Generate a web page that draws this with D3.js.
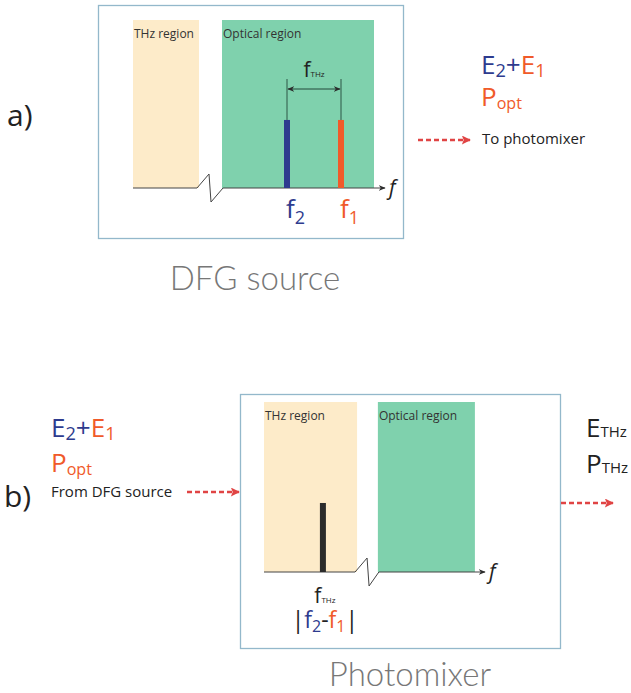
<!DOCTYPE html>
<html>
<head>
<meta charset="utf-8">
<script src="https://cdn.jsdelivr.net/npm/d3@7"></script>
<style>
  body { margin: 0; background: #fff; }
  svg { display: block; font-family: "Open Sans", "Noto Sans", sans-serif; }
</style>
</head>
<body>
<svg id="fig" width="631" height="693"></svg>
<script>
// spectral regions (frequency axis in arbitrary units 0..100)
var regionsA = [
    {name: "THz region", from: 0, to: 26.4, fill: "#fdebc9"},
    {name: "Optical region", from: 35.6, to: 96.4, fill: "#7fd1ad"}
];
var regionsB = [
    {name: "THz region", from: 0, to: 42.5, fill: "#fdebc9"},
    {name: "Optical region", from: 52, to: 96.3, fill: "#7fd1ad"}
];
// spectral lines: position and amplitude
var linesA = [
    {label: "2", pos: 61.6, amp: 0.405, color: "#2e3b8e"},
    {label: "1", pos: 83.2, amp: 0.405, color: "#f05a2a"}
];
var linesB = [
    {label: "THz", pos: 26.9, amp: 0.406, color: "#2b2b2b"}
];

var BLUE = "#2e3b8e", ORANGE = "#f05a2a", RED = "#e04444";
var svg = d3.select("#fig");

var defs = svg.append("defs");
defs.append("marker").attr("id", "ahBlack")
    .attr("viewBox", "0 0 10 10").attr("refX", 9).attr("refY", 5)
    .attr("markerWidth", 7).attr("markerHeight", 7).attr("orient", "auto-start-reverse")
    .attr("markerUnits", "userSpaceOnUse")
    .append("path").attr("d", "M0,1 L10,5 L0,9 L3,5 Z").attr("fill", "#2b2b2b");
defs.append("marker").attr("id", "ahRed")
    .attr("viewBox", "0 0 10 10").attr("refX", 9).attr("refY", 5)
    .attr("markerWidth", 10).attr("markerHeight", 9).attr("orient", "auto")
    .attr("markerUnits", "userSpaceOnUse")
    .append("path").attr("d", "M0,0 L10,5 L0,10 L2,5 Z").attr("fill", RED);

function panel(o) {
    var g = svg.append("g");
    var x = d3.scaleLinear().domain([0, 100]).range([o.x0, o.x1]);
    var y = d3.scaleLinear().domain([0, 1]).range([o.y0, o.y1]);

    g.append("rect")
        .attr("x", o.box[0] + 0.5).attr("y", o.box[1] + 0.5)
        .attr("width", o.box[2]).attr("height", o.box[3])
        .attr("fill", "none").attr("stroke", "#93b8cb").attr("stroke-width", 1.3);

    g.selectAll("rect.region").data(o.regions).join("rect")
        .attr("class", "region")
        .attr("x", function (d) { return x(d.from); })
        .attr("y", y(1))
        .attr("width", function (d) { return x(d.to) - x(d.from); })
        .attr("height", y(0) - y(1))
        .attr("fill", function (d) { return d.fill; });

    g.selectAll("text.region").data(o.regions).join("text")
        .attr("class", "region")
        .attr("x", function (d) { return x(d.from) + 1; })
        .attr("y", y(1) + 18)
        .attr("font-size", 12).attr("fill", "#333")
        .text(function (d) { return d.name; });

    // axis with break
    var r0 = o.regions[0], r1 = o.regions[1];
    var xb0 = x(r0.to) - 2, xb1 = x(r1.from) + 1;
    g.append("path")
        .attr("d", "M" + x(0) + "," + y(0) + " L" + xb0 + "," + y(0) +
            " L" + (xb0 + 12) + "," + (y(0) - 14) +
            " L" + (xb0 + 14) + "," + (y(0) + 14) +
            " L" + xb1 + "," + y(0))
        .attr("fill", "none").attr("stroke", "#444").attr("stroke-width", 1);
    g.append("line")
        .attr("x1", xb1).attr("x2", x(100) + 2)
        .attr("y1", y(0)).attr("y2", y(0))
        .attr("stroke", "#444").attr("stroke-width", 1.2)
        .attr("marker-end", "url(#ahBlack)");
    g.append("text")
        .attr("x", x(100) + 6).attr("y", y(0) + 7)
        .attr("font-size", 21).attr("font-style", "italic").attr("fill", "#222")
        .text("f");

    g.selectAll("rect.line").data(o.lines).join("rect")
        .attr("class", "line")
        .attr("x", function (d) { return x(d.pos) - 3; })
        .attr("y", function (d) { return y(d.amp); })
        .attr("width", 6)
        .attr("height", function (d) { return y(0) - y(d.amp); })
        .attr("fill", function (d) { return d.color; });

    return {g: g, x: x, y: y};
}

// ---------- panel a ----------
var pa = panel({
    box: [98, 5, 305, 233], x0: 133, x1: 383, y0: 188, y1: 20,
    regions: regionsA, lines: linesA
});

linesA.forEach(function (d) {
    pa.g.append("line")
        .attr("x1", pa.x(d.pos)).attr("x2", pa.x(d.pos))
        .attr("y1", pa.y(d.amp)).attr("y2", 79)
        .attr("stroke", "#24483a").attr("stroke-width", 0.9);
    var t = pa.g.append("text")
        .attr("x", pa.x(d.pos) - 1).attr("y", 218)
        .attr("font-size", 26).attr("fill", d.color);
    t.append("tspan").text("f");
    t.append("tspan").attr("font-size", 18).attr("dy", 6).text(d.label);
});
pa.g.append("line")
    .attr("x1", pa.x(linesA[0].pos) + 1).attr("x2", pa.x(linesA[1].pos) - 1)
    .attr("y1", 89).attr("y2", 89)
    .attr("stroke", "#24483a").attr("stroke-width", 1)
    .attr("marker-start", "url(#ahBlack)").attr("marker-end", "url(#ahBlack)");
(function () {
    var t = pa.g.append("text")
        .attr("x", (pa.x(linesA[0].pos) + pa.x(linesA[1].pos)) / 2)
        .attr("y", 77).attr("text-anchor", "middle").attr("fill", "#222");
    t.append("tspan").attr("font-size", 21).text("f");
    t.append("tspan").attr("font-size", 8).text("THz");
}());

function fieldLabel(x, y1, y2, size) {
    var t = svg.append("text").attr("x", x).attr("y", y1).attr("font-size", size);
    t.append("tspan").attr("fill", BLUE).text("E");
    t.append("tspan").attr("fill", BLUE).attr("font-size", size * 0.7).attr("dy", 3).text("2");
    t.append("tspan").attr("fill", BLUE).attr("dy", -3).text("+");
    t.append("tspan").attr("fill", ORANGE).text("E");
    t.append("tspan").attr("fill", ORANGE).attr("font-size", size * 0.7).attr("dy", 3).text("1");
    var p = svg.append("text").attr("x", x).attr("y", y2).attr("font-size", size).attr("fill", ORANGE);
    p.append("tspan").text("P");
    p.append("tspan").attr("font-size", size * 0.62).attr("dy", 3).text("opt");
}

function dashArrow(x1, x2, yy) {
    svg.append("line")
        .attr("x1", x1).attr("x2", x2).attr("y1", yy).attr("y2", yy)
        .attr("stroke", RED).attr("stroke-width", 2.4)
        .attr("stroke-dasharray", "5,3")
        .attr("marker-end", "url(#ahRed)");
}

fieldLabel(481, 74, 106, 26);
dashArrow(418, 470, 140);
svg.append("text").attr("x", 482).attr("y", 144).attr("font-size", 15).attr("fill", "#222")
    .text("To photomixer");
svg.append("text").attr("x", 7).attr("y", 126).attr("font-size", 30).attr("fill", "#222").text("a)");
svg.append("text").attr("x", 255).attr("y", 290).attr("text-anchor", "middle")
    .attr("font-family", "Lato, sans-serif").attr("font-weight", 300)
    .attr("font-size", 33).attr("fill", "#777").text("DFG source");

// ---------- panel b ----------
var pb = panel({
    box: [240, 394, 320, 254], x0: 264, x1: 483, y0: 572, y1: 402,
    regions: regionsB, lines: linesB
});

linesB.forEach(function (d) {
    var t = pb.g.append("text")
        .attr("x", pb.x(d.pos) + 2).attr("y", 603)
        .attr("text-anchor", "middle").attr("fill", "#222");
    t.append("tspan").attr("font-size", 21).text("f");
    t.append("tspan").attr("font-size", 8).text(d.label);
    var u = pb.g.append("text")
        .attr("x", pb.x(d.pos) + 2).attr("y", 628)
        .attr("text-anchor", "middle").attr("font-size", 23);
    u.append("tspan").attr("fill", "#222").text("|");
    u.append("tspan").attr("fill", BLUE).text("f");
    u.append("tspan").attr("fill", BLUE).attr("font-size", 16).attr("dy", 4).text("2");
    u.append("tspan").attr("fill", "#222").attr("dy", -4).text("-");
    u.append("tspan").attr("fill", ORANGE).text("f");
    u.append("tspan").attr("fill", ORANGE).attr("font-size", 16).attr("dy", 4).text("1");
    u.append("tspan").attr("fill", "#222").attr("dy", -4).text("|");
});

fieldLabel(51, 437, 472, 26);
svg.append("text").attr("x", 51).attr("y", 497).attr("font-size", 15).attr("fill", "#222")
    .text("From DFG source");
dashArrow(187, 239, 492);
svg.append("text").attr("x", 4).attr("y", 507).attr("font-size", 30).attr("fill", "#222").text("b)");

[["E", 437], ["P", 473]].forEach(function (d) {
    var t = svg.append("text").attr("x", 586).attr("y", d[1]).attr("fill", "#222");
    t.append("tspan").attr("font-size", 26).text(d[0]);
    t.append("tspan").attr("font-size", 15).text("THz");
});
dashArrow(561, 613, 503);
svg.append("text").attr("x", 410).attr("y", 686).attr("text-anchor", "middle")
    .attr("font-family", "Lato, sans-serif").attr("font-weight", 300)
    .attr("font-size", 33).attr("fill", "#777").text("Photomixer");
</script>
</body>
</html>
